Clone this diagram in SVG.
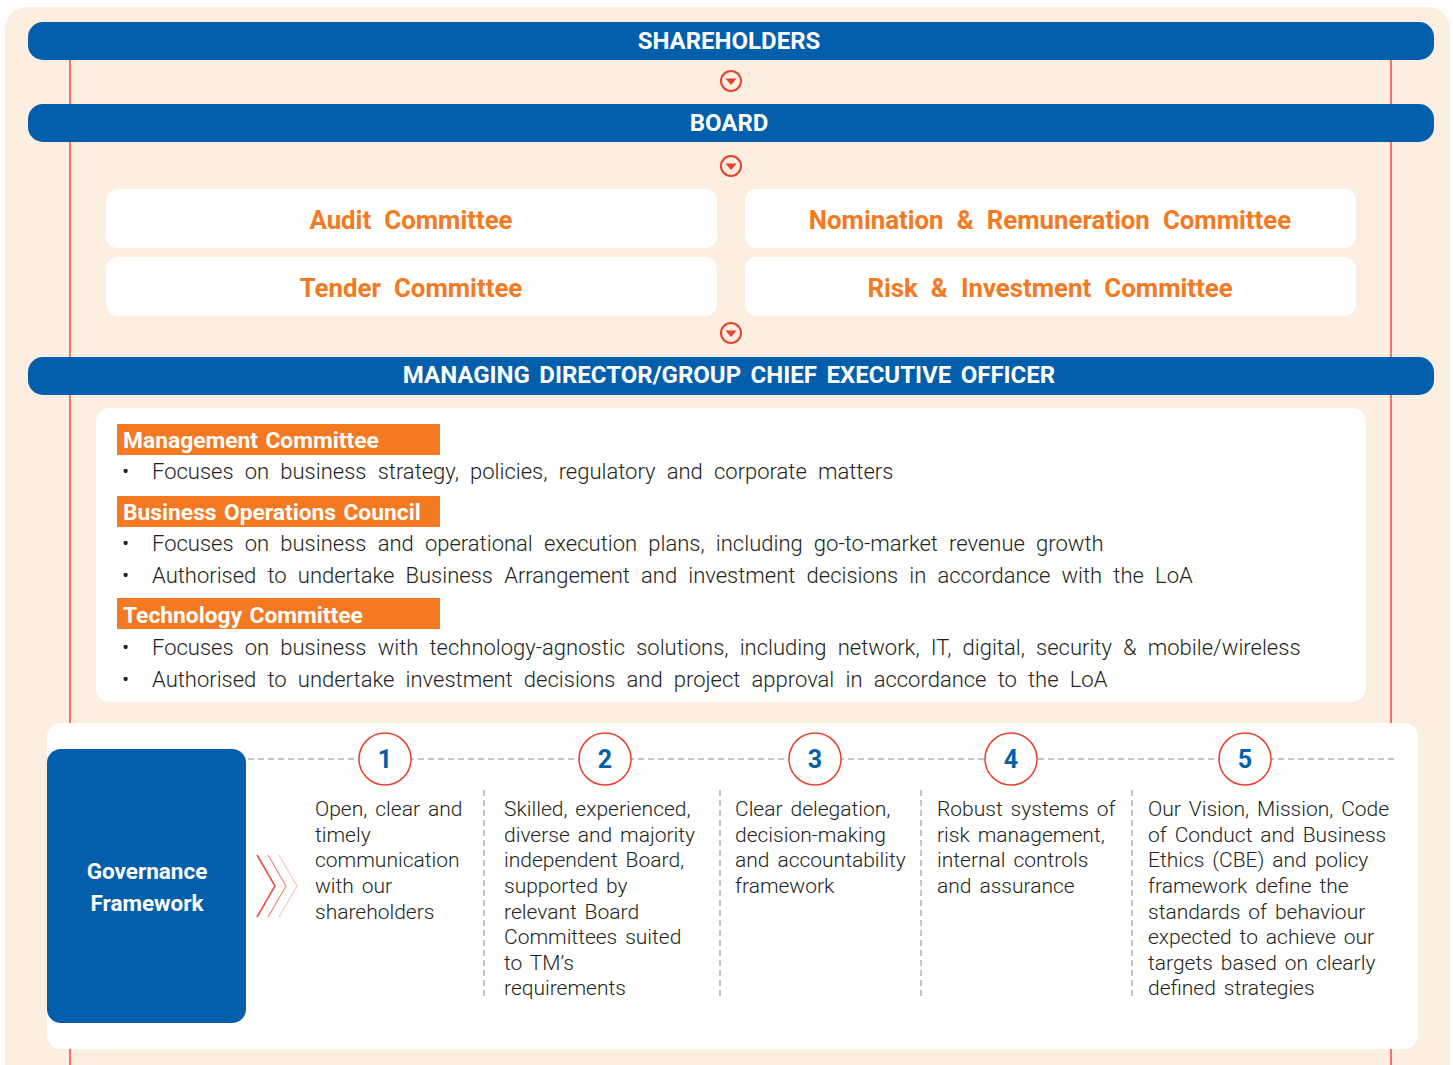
<svg xmlns="http://www.w3.org/2000/svg" width="1453" height="1065" viewBox="0 0 1453 1065">
<defs>
<style>
.bar{fill:#035EAB}
.bart{fill:#fff;font-family:Roboto,"Liberation Sans",sans-serif;font-weight:700;font-size:24px;text-anchor:middle;word-spacing:3.5px}
.gft{fill:#fff;font-family:Roboto,"Liberation Sans",sans-serif;font-weight:700;font-size:22.5px;text-anchor:middle}
.vline{stroke:#EE4B3A;stroke-width:1.5}
.arr circle{fill:none;stroke:#E8412F;stroke-width:2}
.arr path{fill:#E8412F}
.cbox{fill:#fff}
.ct{fill:#F47920;font-family:Roboto,"Liberation Sans",sans-serif;font-weight:700;font-size:25.8px;text-anchor:middle;word-spacing:6.7px}
.ob{fill:#F47920}
.obt{fill:#fff;font-family:Roboto,"Liberation Sans",sans-serif;font-weight:700;font-size:22.8px;word-spacing:1.7px}
.body{fill:#231F20;font-family:Roboto,"Liberation Sans",sans-serif;font-weight:300;font-size:22px;word-spacing:5.8px}
.col{fill:#231F20;font-family:Roboto,"Liberation Sans",sans-serif;font-weight:300;font-size:21px;word-spacing:2.8px}
.num circle{fill:#fff;stroke:#E8412F;stroke-width:1.5}
.num text{fill:#035EAB;font-family:Roboto,"Liberation Sans",sans-serif;font-weight:700;font-size:25px;text-anchor:middle}
.dash{stroke:#8A8A8A;stroke-width:1;stroke-dasharray:6 4;fill:none}
</style>
</defs>
<rect x="5" y="7" width="1445" height="1080" rx="22" fill="#FDEEE2"/>
<g id="connectors">
<line class="vline" x1="70" y1="55" x2="70" y2="1065"/>
<line class="vline" x1="1391" y1="55" x2="1391" y2="1065"/>
<g class="arr"><circle cx="731" cy="81" r="10"/><path d="M725.5 78.5 L736.5 78.5 L731 85 Z"/></g>
<g class="arr"><circle cx="731" cy="166" r="10"/><path d="M725.5 163.5 L736.5 163.5 L731 170 Z"/></g>
<g class="arr"><circle cx="731" cy="333" r="10"/><path d="M725.5 330.5 L736.5 330.5 L731 337 Z"/></g>
</g>
<g id="shareholders"><rect class="bar" x="28" y="22" width="1406" height="38" rx="15"/><text class="bart" x="729" y="48.5">SHAREHOLDERS</text></g>
<g id="board"><rect class="bar" x="28" y="104" width="1406" height="38" rx="15"/><text class="bart" x="729" y="130.5">BOARD</text></g>
<g id="audit"><rect class="cbox" x="106" y="189" width="611" height="59" rx="12"/><text class="ct" x="411" y="228.5">Audit Committee</text></g>
<g id="nomination"><rect class="cbox" x="745" y="189" width="611" height="59" rx="12"/><text class="ct" x="1050" y="228.5">Nomination &amp; Remuneration Committee</text></g>
<g id="tender"><rect class="cbox" x="106" y="257" width="611" height="59" rx="12"/><text class="ct" x="411" y="296.5">Tender Committee</text></g>
<g id="risk"><rect class="cbox" x="745" y="257" width="611" height="59" rx="12"/><text class="ct" x="1050" y="296.5">Risk &amp; Investment Committee</text></g>
<g id="md"><rect class="bar" x="28" y="357" width="1406" height="38" rx="15"/><text class="bart" x="729" y="383">MANAGING DIRECTOR/GROUP CHIEF EXECUTIVE OFFICER</text></g>
<g id="management-panel">
<rect x="96" y="408" width="1270" height="294" rx="14" fill="#fff"/>
<rect class="ob" x="117" y="424" width="323" height="31"/><text class="obt" x="123" y="447.5">Management Committee</text>
<text class="body" x="122" y="479">•</text><text class="body" x="152" y="479">Focuses on business strategy, policies, regulatory and corporate matters</text>
<rect class="ob" x="117" y="496" width="323" height="31"/><text class="obt" x="123" y="519.5">Business Operations Council</text>
<text class="body" x="122" y="551">•</text><text class="body" x="152" y="551">Focuses on business and operational execution plans, including go-to-market revenue growth</text>
<text class="body" x="122" y="583">•</text><text class="body" x="152" y="583">Authorised to undertake Business Arrangement and investment decisions in accordance with the LoA</text>
<rect class="ob" x="117" y="598" width="323" height="31"/><text class="obt" x="123" y="623">Technology Committee</text>
<text class="body" x="122" y="655">•</text><text class="body" x="152" y="655">Focuses on business with technology-agnostic solutions, including network, IT, digital, security &amp; mobile/wireless</text>
<text class="body" x="122" y="687">•</text><text class="body" x="152" y="687">Authorised to undertake investment decisions and project approval in accordance to the LoA</text>
</g>
<g id="governance-panel">
<rect x="47" y="723" width="1371" height="326" rx="14" fill="#fff"/>
<line class="dash" x1="248" y1="759" x2="1395" y2="759"/>
<line class="dash" x1="484" y1="790" x2="484" y2="996"/>
<line class="dash" x1="720" y1="790" x2="720" y2="996"/>
<line class="dash" x1="921" y1="790" x2="921" y2="996"/>
<line class="dash" x1="1132" y1="790" x2="1132" y2="996"/>
</g>
<g id="governance-framework">
<rect x="47" y="749" width="199" height="274" rx="14" fill="#035EAB"/>
<text class="gft" x="147" y="879">Governance</text>
<text class="gft" x="147" y="911">Framework</text>
<path d="M257 855 L275 886 L257 917" fill="none" stroke="#EE4B3A" stroke-width="1.5"/>
<path d="M268 855 L286 886 L268 917" fill="none" stroke="#F3877A" stroke-width="1.2"/>
<path d="M279 855 L297 886 L279 917" fill="none" stroke="#F9C6BE" stroke-width="1.2"/>
</g>
<g id="item1"><g class="num"><circle cx="385" cy="759" r="26"/><text x="385" y="768">1</text></g>
<text class="col"><tspan x="315" y="816">Open, clear and</tspan><tspan x="315" y="842">timely</tspan><tspan x="315" y="867">communication</tspan><tspan x="315" y="893">with our</tspan><tspan x="315" y="919">shareholders</tspan></text></g>
<g id="item2"><g class="num"><circle cx="605" cy="759" r="26"/><text x="605" y="768">2</text></g>
<text class="col"><tspan x="504" y="816">Skilled, experienced,</tspan><tspan x="504" y="842">diverse and majority</tspan><tspan x="504" y="867">independent Board,</tspan><tspan x="504" y="893">supported by</tspan><tspan x="504" y="919">relevant Board</tspan><tspan x="504" y="944">Committees suited</tspan><tspan x="504" y="970">to TM’s</tspan><tspan x="504" y="995">requirements</tspan></text></g>
<g id="item3"><g class="num"><circle cx="815" cy="759" r="26"/><text x="815" y="768">3</text></g>
<text class="col"><tspan x="735" y="816">Clear delegation,</tspan><tspan x="735" y="842">decision-making</tspan><tspan x="735" y="867">and accountability</tspan><tspan x="735" y="893">framework</tspan></text></g>
<g id="item4"><g class="num"><circle cx="1011" cy="759" r="26"/><text x="1011" y="768">4</text></g>
<text class="col"><tspan x="937" y="816">Robust systems of</tspan><tspan x="937" y="842">risk management,</tspan><tspan x="937" y="867">internal controls</tspan><tspan x="937" y="893">and assurance</tspan></text></g>
<g id="item5"><g class="num"><circle cx="1245" cy="759" r="26"/><text x="1245" y="768">5</text></g>
<text class="col"><tspan x="1148" y="816">Our Vision, Mission, Code</tspan><tspan x="1148" y="842">of Conduct and Business</tspan><tspan x="1148" y="867">Ethics (CBE) and policy</tspan><tspan x="1148" y="893">framework define the</tspan><tspan x="1148" y="919">standards of behaviour</tspan><tspan x="1148" y="944">expected to achieve our</tspan><tspan x="1148" y="970">targets based on clearly</tspan><tspan x="1148" y="995">defined strategies</tspan></text></g>
</svg>
